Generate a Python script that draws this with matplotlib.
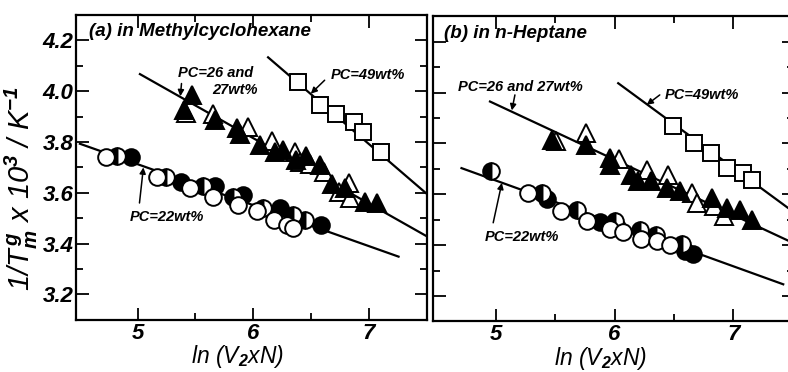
import numpy as np
import matplotlib
matplotlib.use("Agg")
import matplotlib.pyplot as plt

plt.rcParams["font.family"] = ["Liberation Sans", "DejaVu Sans"]
plt.rcParams["font.weight"] = "bold"
plt.rcParams["font.style"] = "italic"
plt.rcParams["mathtext.fontset"] = "custom"
plt.rcParams["mathtext.rm"] = "Liberation Sans:italic:bold"
plt.rcParams["mathtext.it"] = "Liberation Sans:italic:bold"
plt.rcParams["mathtext.bf"] = "Liberation Sans:italic:bold"

# ---------------- (a) Methylcyclohexane ----------------
a_open_c_x = [4.73, 5.17, 5.45, 5.65, 5.87, 6.03, 6.18, 6.29, 6.35]
a_open_c_y = [3.742, 3.664, 3.618, 3.585, 3.553, 3.527, 3.494, 3.475, 3.461]
a_half_c_x = [4.82, 5.25, 5.57, 5.83, 6.09, 6.35, 6.45]
a_half_c_y = [3.745, 3.664, 3.625, 3.585, 3.540, 3.514, 3.494]
a_fill_c_x = [4.94, 5.38, 5.67, 5.91, 6.23, 6.59]
a_fill_c_y = [3.740, 3.644, 3.628, 3.592, 3.540, 3.475]

a_fill_t_x = [5.40, 5.47, 5.67, 5.86, 5.89, 6.06, 6.19, 6.26, 6.37, 6.46, 6.58, 6.68, 6.80, 6.97, 7.07]
a_fill_t_y = [3.925, 3.985, 3.885, 3.855, 3.830, 3.790, 3.760, 3.770, 3.730, 3.745, 3.710, 3.635, 3.620, 3.565, 3.560]
a_open_t_x = [5.42, 5.65, 5.96, 6.16, 6.36, 6.41, 6.49, 6.61, 6.74, 6.83, 6.84]
a_open_t_y = [3.915, 3.910, 3.860, 3.805, 3.760, 3.720, 3.715, 3.680, 3.605, 3.640, 3.580]

a_sq_x = [6.39, 6.58, 6.72, 6.87, 6.95, 7.11]
a_sq_y = [4.037, 3.945, 3.912, 3.880, 3.840, 3.762]

a_line22_x, a_line22_y = [4.50, 7.26], [3.793, 3.349]
a_line26_x, a_line26_y = [5.02, 7.52], [4.067, 3.425]
a_line49_x, a_line49_y = [6.13, 7.52], [4.133, 3.590]

# ---------------- (b) n-Heptane ----------------
b_open_c_x = [5.27, 5.55, 5.77, 5.96, 6.07, 6.22, 6.36, 6.47]
b_open_c_y = [3.605, 3.533, 3.495, 3.462, 3.450, 3.425, 3.416, 3.400]
b_half_c_x = [4.96, 5.39, 5.68, 6.00, 6.21, 6.35, 6.57]
b_half_c_y = [3.690, 3.605, 3.540, 3.495, 3.460, 3.440, 3.405]
b_fill_c_x = [5.43, 5.88, 6.02, 6.59, 6.66]
b_fill_c_y = [3.580, 3.492, 3.470, 3.376, 3.364]

b_fill_t_x = [5.47, 5.76, 5.96, 5.96, 6.14, 6.20, 6.31, 6.44, 6.55, 6.82, 6.95, 7.06, 7.16]
b_fill_t_y = [3.815, 3.795, 3.743, 3.716, 3.677, 3.651, 3.651, 3.625, 3.612, 3.586, 3.547, 3.540, 3.500]
b_open_t_x = [5.51, 5.76, 6.04, 6.27, 6.45, 6.65, 6.69, 6.84, 6.92]
b_open_t_y = [3.810, 3.840, 3.737, 3.697, 3.677, 3.605, 3.566, 3.553, 3.514]

b_sq_x = [6.49, 6.67, 6.81, 6.95, 7.08, 7.16]
b_sq_y = [3.867, 3.800, 3.762, 3.703, 3.684, 3.658]

b_line22_x, b_line22_y = [4.71, 7.42], [3.703, 3.246]
b_line26_x, b_line26_y = [4.95, 7.52], [3.965, 3.405]
b_line49_x, b_line49_y = [6.03, 7.52], [4.037, 3.526]

yticks = [3.2, 3.4, 3.6, 3.8, 4.0, 4.2]
xticks = [5, 6, 7]

MS = 12
MEW = 1.4


def draw_panel(ax, d):
    for lx, ly in d["lines"]:
        ax.plot(lx, ly, color="black", lw=1.6, zorder=2)
    ax.plot(d["sq"][0], d["sq"][1], "s", ms=MS, mfc="white", mec="black", mew=MEW, ls="none", zorder=3)
    ax.plot(d["ot"][0], d["ot"][1], "^", ms=MS + 1.5, mfc="white", mec="black", mew=MEW, ls="none", zorder=3)
    ax.plot(d["ft"][0], d["ft"][1], "^", ms=MS + 1.5, mfc="black", mec="black", mew=MEW, ls="none", zorder=4)
    ax.plot(d["fc"][0], d["fc"][1], "o", ms=MS, mfc="black", mec="black", mew=MEW, ls="none", zorder=3)
    ax.plot(d["hc"][0], d["hc"][1], "o", ms=MS, fillstyle="left", mfc="black", mfcalt="white",
            mec="black", mew=MEW, ls="none", zorder=4)
    ax.plot(d["oc"][0], d["oc"][1], "o", ms=MS, mfc="white", mec="black", mew=MEW, ls="none", zorder=5)

    ax.set_xlim(4.47, 7.51)
    ax.set_ylim(3.1, 4.3)
    ax.set_xticks(xticks)
    ax.set_xticks([5.5, 6.5], minor=True)
    ax.set_yticks(yticks)
    ax.set_yticks([3.3, 3.5, 3.7, 3.9, 4.1], minor=True)
    ax.tick_params(which="both", direction="in", top=True, right=True, width=1.3)
    ax.tick_params(which="major", length=9)
    ax.tick_params(which="minor", length=5)
    ax.tick_params(axis="x", labelsize=16, pad=2)
    ax.tick_params(axis="y", labelsize=16, pad=2)
    for s in ax.spines.values():
        s.set_linewidth(1.6)
    ax.set_xlabel("ln (V$_2$xN)", fontsize=16.5)
    ax.xaxis.set_label_coords(d["xlabel_x"], -0.077)

    ax.text(d["title_pos"][0], d["title_pos"][1], d["title"], transform=ax.transAxes,
            fontsize=13.5, ha="left", va="center")
    for txt, pos in d["texts"]:
        ax.text(pos[0], pos[1], txt, fontsize=10.5, ha="left", va="center", zorder=6)
    for tail, head in d["arrows"]:
        ax.annotate("", xy=head, xytext=tail,
                    arrowprops=dict(arrowstyle="-|>", color="black", lw=1.1, mutation_scale=9,
                                    shrinkA=0, shrinkB=0), zorder=6)


fig = plt.figure(figsize=(7.88, 3.72), dpi=100)
ax_a = fig.add_axes([0.097, 0.14, 0.4454, 0.82])
ax_b = fig.add_axes([0.5495, 0.136, 0.458, 0.82])

draw_panel(ax_a, {
    "lines": [(a_line22_x, a_line22_y), (a_line26_x, a_line26_y), (a_line49_x, a_line49_y)],
    "sq": (a_sq_x, a_sq_y), "ot": (a_open_t_x, a_open_t_y), "ft": (a_fill_t_x, a_fill_t_y),
    "fc": (a_fill_c_x, a_fill_c_y), "hc": (a_half_c_x, a_half_c_y), "oc": (a_open_c_x, a_open_c_y),
    "title": "(a) in Methylcyclohexane", "title_pos": (0.035, 0.945), "xlabel_x": 0.46,
    "texts": [("PC=26 and", (5.35, 4.07)), ("27wt%", (5.65, 4.004)),
              ("PC=49wt%", (6.67, 4.063)), ("PC=22wt%", (4.935, 3.506))],
    "arrows": [((5.38, 4.03), (5.37, 3.98)), ((6.62, 4.043), (6.50, 3.99)),
               ((5.016, 3.56), (5.05, 3.70))],
})
draw_panel(ax_b, {
    "lines": [(b_line22_x, b_line22_y), (b_line26_x, b_line26_y), (b_line49_x, b_line49_y)],
    "sq": (b_sq_x, b_sq_y), "ot": (b_open_t_x, b_open_t_y), "ft": (b_fill_t_x, b_fill_t_y),
    "fc": (b_fill_c_x, b_fill_c_y), "hc": (b_half_c_x, b_half_c_y), "oc": (b_open_c_x, b_open_c_y),
    "title": "(b) in n-Heptane", "title_pos": (0.03, 0.945), "xlabel_x": 0.465,
    "texts": [("PC=26 and 27wt%", (4.68, 4.022)), ("PC=49wt%", (6.42, 3.991)),
              ("PC=22wt%", (4.906, 3.434))],
    "arrows": [((5.16, 3.991), (5.134, 3.93)), ((6.38, 3.991), (6.27, 3.952)),
               ((4.977, 3.488), (5.05, 3.645))],
})

ax_a.set_yticklabels([f"{v:.1f}" for v in yticks])
ax_b.set_yticklabels([])
ax_a.set_ylabel("1/T$_m^{\\,g}$ x 10$^3$ / K$^{-1}$", fontsize=21)
ax_a.yaxis.set_label_coords(-0.105, 0.43)

fig.savefig("out.png", dpi=100)
